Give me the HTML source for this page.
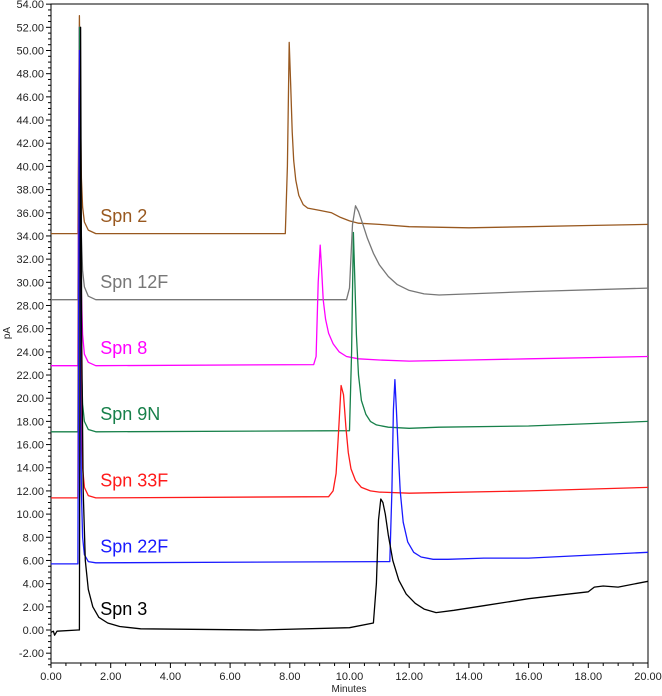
<!DOCTYPE html>
<html><head><meta charset="utf-8">
<style>
html,body{margin:0;padding:0;background:#fff;}
svg{display:block;font-family:"Liberation Sans",Arial,sans-serif;}
</style></head>
<body>
<svg id="chart" width="662" height="696" viewBox="0 0 662 696" xmlns="http://www.w3.org/2000/svg">
<g id="axes"></g>
<g id="series"></g>
<g id="labels"></g>
<text x="349" y="692" font-size="10" text-anchor="middle" fill="#222">Minutes</text>
<text x="10" y="333" font-size="10" text-anchor="middle" fill="#222" transform="rotate(-90 10 333)">pA</text>
</svg>
<script>
const yTicks = [-2,0,2,4,6,8,10,12,14,16,18,20,22,24,26,28,30,32,34,36,38,40,42,44,46,48,50,52,54];
const xTicks = [0,2,4,6,8,10,12,14,16,18,20];
const seriesNames = ["Spn 2","Spn 12F","Spn 8","Spn 9N","Spn 33F","Spn 22F","Spn 3"];
const seriesColors = ["#98581f","#777777","#ff00ff","#17804a","#ff1a1a","#1a1aff","#000000"];

const t2 = [0,0.9,0.95,0.99,1.02,1.06,1.12,1.25,1.5,7.85,7.92,7.98,8.03,8.08,8.13,8.2,8.3,8.45,8.6,9.0,9.4,9.7,10.0,10.3,11,12,14,16,18,20];
const v2 = [34.2,34.2,53,44,39,36.5,35.2,34.5,34.2,34.2,40,50.7,47,43,40.5,38.8,37.5,36.7,36.4,36.2,36.0,35.6,35.3,35.1,35.0,34.8,34.7,34.8,34.9,35.0];
const t12 = [0,0.9,0.95,0.99,1.02,1.06,1.12,1.25,1.5,9.9,10.0,10.1,10.2,10.3,10.45,10.6,10.8,11,11.3,11.6,12,12.5,13,16,20];
const v12 = [28.5,28.5,52,40,34,31,29.6,28.8,28.5,28.5,29.5,35,36.6,36.1,35.0,33.8,32.5,31.5,30.5,29.8,29.3,29.0,28.9,29.2,29.5];
const t8 = [0,0.9,0.95,0.99,1.02,1.06,1.12,1.25,1.5,8.8,8.88,8.95,9.02,9.07,9.12,9.2,9.3,9.45,9.65,9.9,10.3,11,12,14,16,20];
const v8 = [22.8,22.8,52,36,29,25.5,23.8,23.1,22.8,22.9,23.6,30,33.2,31,28.5,26.8,25.6,24.7,24.0,23.6,23.4,23.3,23.2,23.3,23.4,23.6];
const t9 = [0,0.9,0.95,0.99,1.02,1.06,1.12,1.25,1.5,10.0,10.07,10.13,10.18,10.23,10.3,10.4,10.55,10.7,10.9,11.3,12,13,16,20];
const v9 = [17.1,17.1,52,30,23,19.5,18,17.3,17.1,17.2,24,34.3,30,25.5,22,19.8,18.6,18.0,17.7,17.5,17.4,17.5,17.6,18.0];
const t33 = [0,0.9,0.95,0.99,1.02,1.06,1.12,1.25,1.5,9.3,9.45,9.55,9.63,9.72,9.8,9.88,9.96,10.05,10.2,10.4,10.7,11,12,16,20];
const v33 = [11.4,11.4,50,26,18,14,12.3,11.6,11.4,11.5,12.0,13.5,17,21.1,20.3,17.5,15.3,13.9,12.9,12.3,12.0,11.9,11.8,12.0,12.3];
const t22 = [0,0.9,0.95,0.99,1.02,1.06,1.12,1.25,1.5,11.35,11.42,11.47,11.52,11.57,11.63,11.7,11.8,11.95,12.15,12.4,12.8,13.3,14.5,16,20];
const v22 = [5.7,5.7,50,20,12,8,6.5,5.9,5.8,5.9,12,19,21.6,19,15.5,12,9.3,7.6,6.7,6.3,6.1,6.1,6.2,6.2,6.7];
const t3 = [0,0.08,0.12,0.2,0.9,0.95,0.99,1.03,1.08,1.15,1.25,1.4,1.6,1.9,2.3,3,7,10,10.8,10.9,10.97,11.05,11.12,11.2,11.3,11.45,11.65,11.9,12.2,12.5,12.9,13.5,14.5,16,17,18,18.2,18.5,19,20];
const v3 = [-0.2,-0.1,-0.45,-0.1,0,0,52,25,12,6,3.5,2.0,1.1,0.6,0.3,0.1,0,0.2,0.6,4,9.5,11.3,11.0,10.0,8.2,6.0,4.3,3.1,2.3,1.8,1.5,1.7,2.1,2.7,3.0,3.3,3.7,3.8,3.7,4.2];

const seriesT = [t2,t12,t8,t9,t33,t22,t3];
const seriesV = [v2,v12,v8,v9,v33,v22,v3];
const labelX = [1.65,1.65,1.65,1.65,1.65,1.65,1.65];
const labelY = [35.2,29.5,23.8,18.1,12.4,6.7,1.3];

const X0=51,X1=648,Y_TOP=4,Y_BOT=663;
function xs(t){return X0+(t-0)/(20-0)*(X1-X0);}
function ys(v){return 630+(0-v)*11.59;}

const NS="http://www.w3.org/2000/svg";
const axes=document.getElementById('axes');
function mk(tag,attrs,parent){const e=document.createElementNS(NS,tag);for(const k in attrs)e.setAttribute(k,attrs[k]);parent.appendChild(e);return e;}

const frame=mk('path',{d:`M${X0},${Y_BOT}V${Y_TOP}H${X1}V${Y_BOT}H${X0}`,fill:'none',stroke:'#000','stroke-width':1},axes);



for(let v=-3;v<=54.001;v+=0.5){
  const y=ys(v);
  const isMaj=Math.abs(v/2-Math.round(v/2))<1e-6;
  const tk=mk('line',{x1:X0-(isMaj?5:3),x2:X0,y1:y,y2:y,stroke:'#000','stroke-width':1},axes);
  
  
}
yTicks.forEach(v=>{
  const t=mk('text',{x:X0-7,y:ys(v)+4,'font-size':11,'text-anchor':'end',fill:'#222'},axes);
  t.textContent=v.toFixed(2);
  
  
});
for(let v=0;v<=20.001;v+=0.5){
  const x=xs(v);
  const isMaj=Math.abs(v/2-Math.round(v/2))<1e-6;
  const tk=mk('line',{x1:x,x2:x,y1:Y_BOT,y2:Y_BOT+(isMaj?5:3),stroke:'#000','stroke-width':1},axes);
  
  
}
xTicks.forEach(v=>{
  const t=mk('text',{x:xs(v),y:Y_BOT+17,'font-size':11,'text-anchor':'middle',fill:'#222'},axes);
  t.textContent=v.toFixed(2);
  
  
});

const sg=document.getElementById('series');
const lg=document.getElementById('labels');
seriesNames.forEach((n,i)=>{
  const T=seriesT[i],V=seriesV[i];
  let d='';
  for(let k=0;k<T.length;k++)d+=(k?'L':'M')+xs(T[k]).toFixed(1)+','+ys(V[k]).toFixed(1);
  const p=mk('path',{d:d,fill:'none',stroke:seriesColors[i],'stroke-width':1.3,'stroke-linejoin':'round'},sg);
  
  
  const t=mk('text',{x:xs(labelX[i]),y:ys(labelY[i]),'font-size':18,fill:seriesColors[i]},lg);
  t.textContent=n;
  
  
});
</script>
</body></html>
